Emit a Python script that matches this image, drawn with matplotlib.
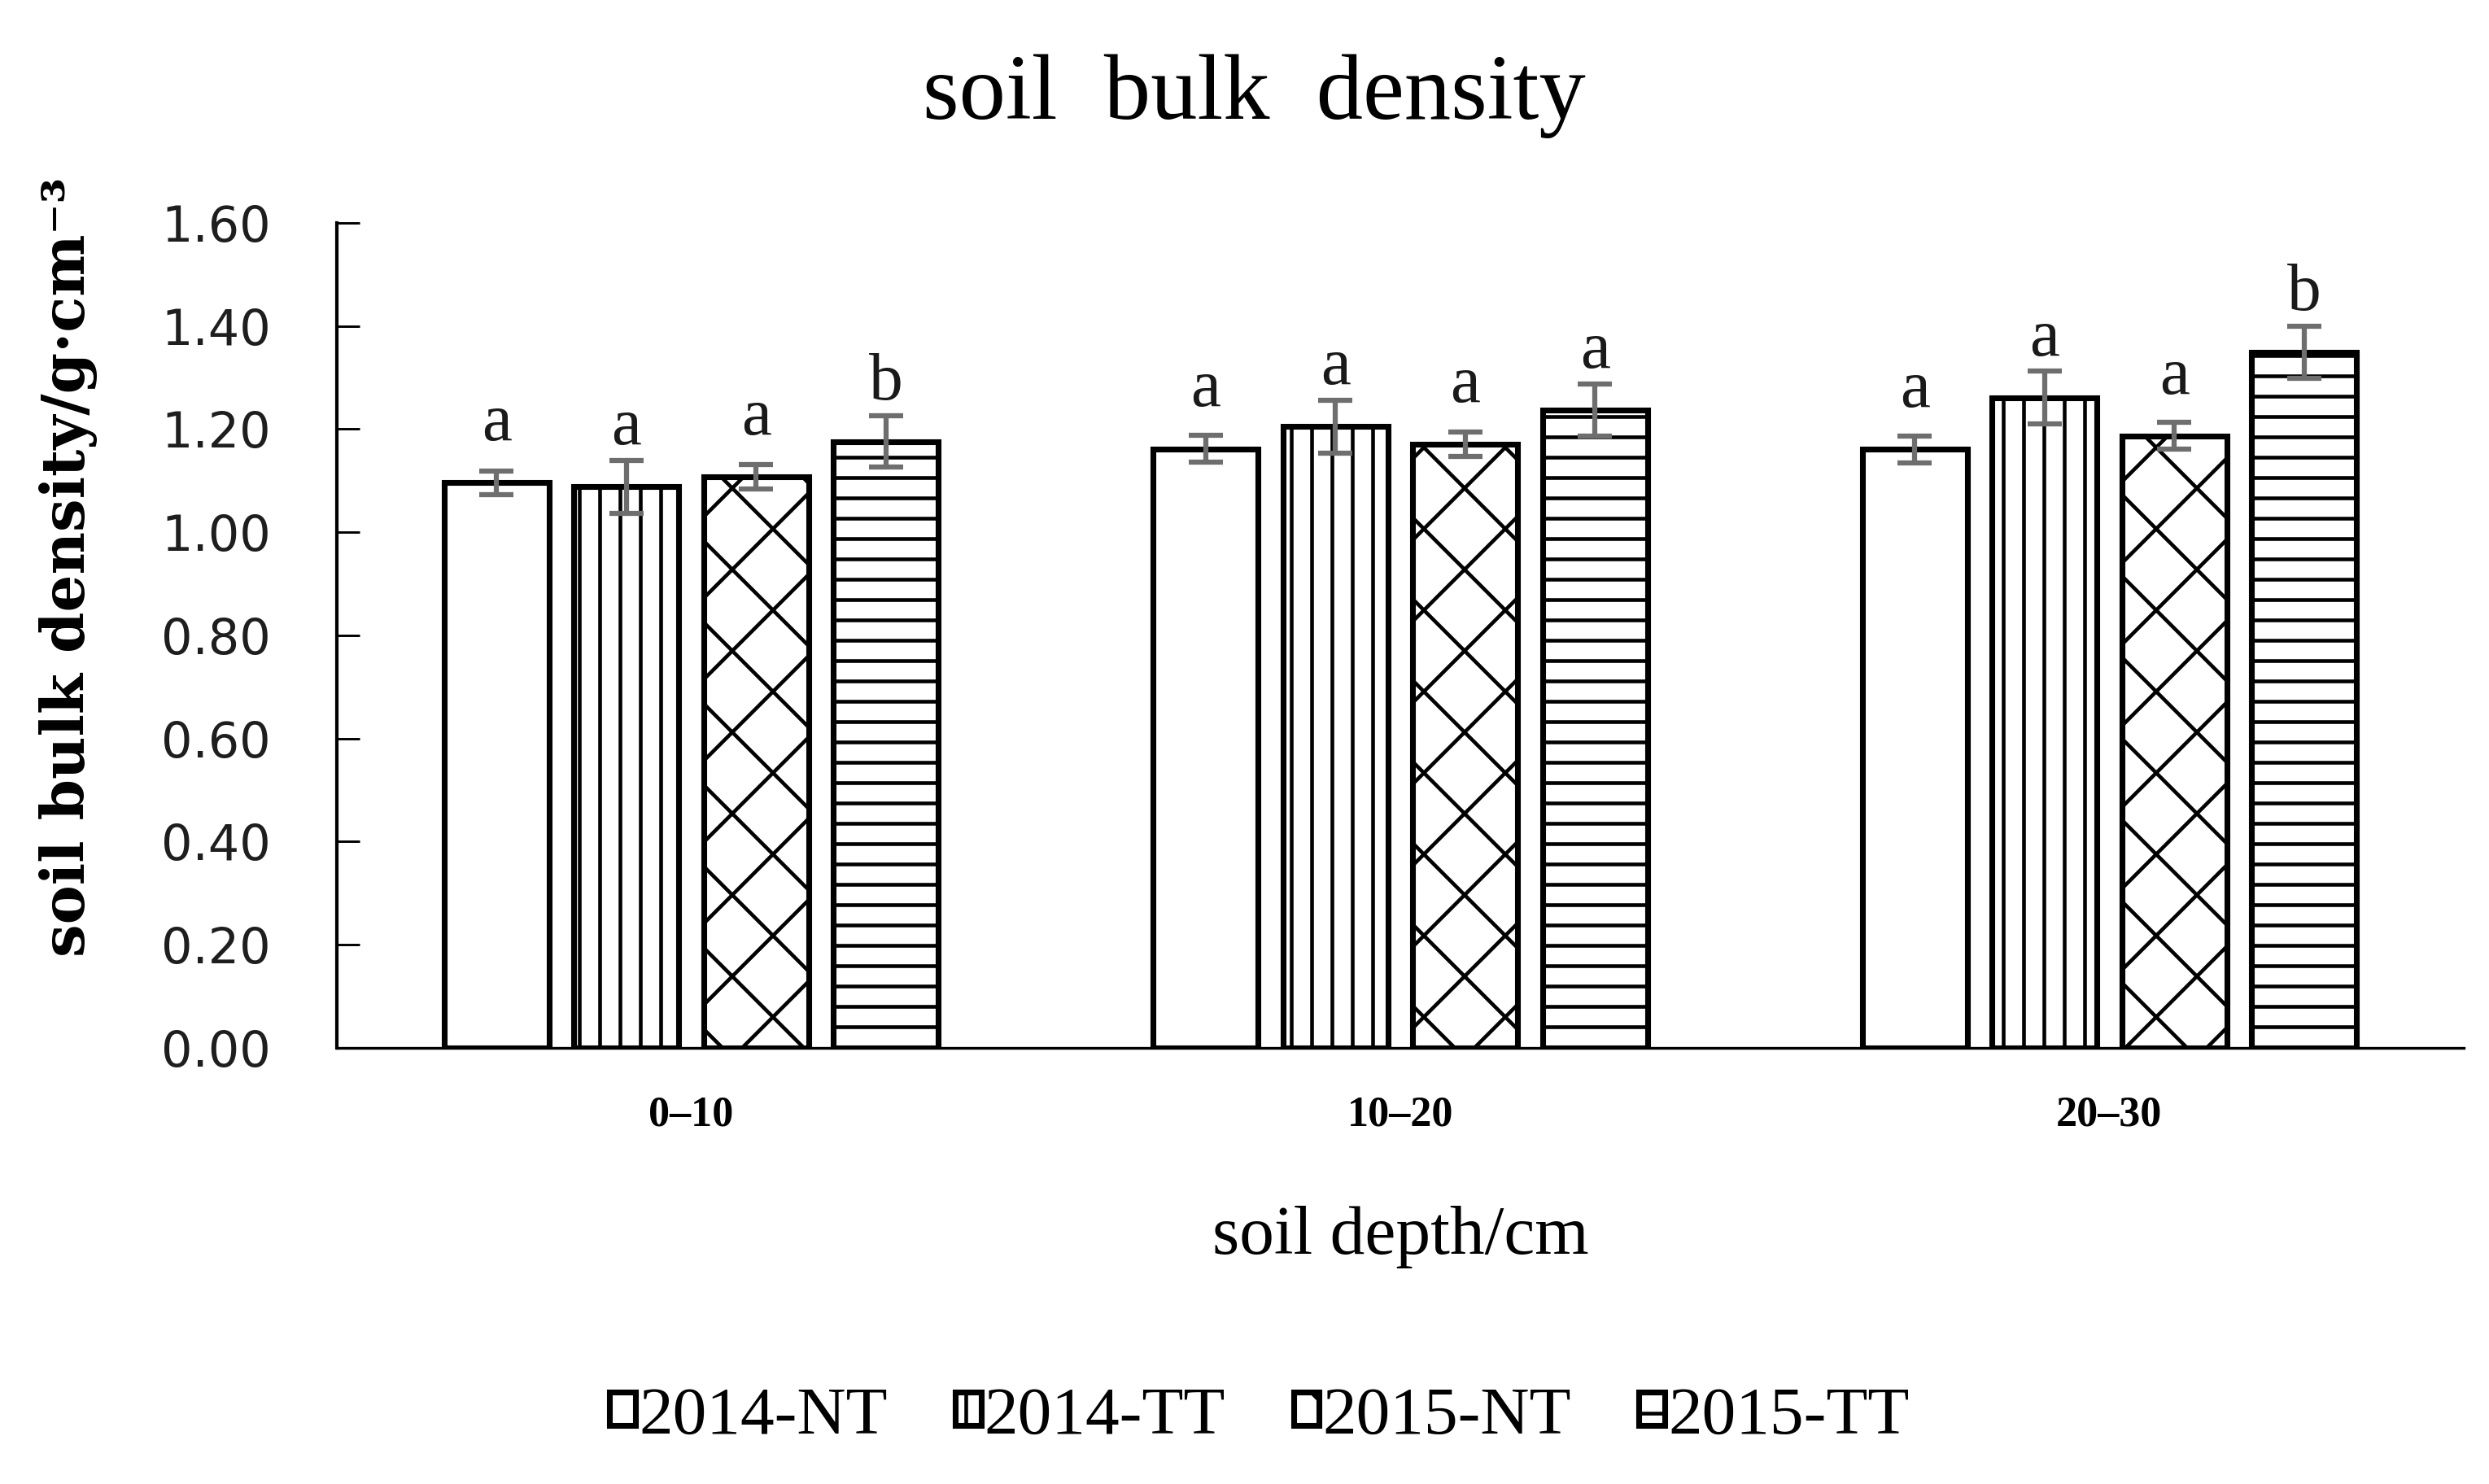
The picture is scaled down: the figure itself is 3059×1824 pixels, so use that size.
import matplotlib
matplotlib.use("Agg")
import matplotlib.pyplot as plt
import numpy as np

# ---- data ----
depths = ["0–10", "10–20", "20–30"]
series_names = ["2014-NT", "2014-TT", "2015-NT", "2015-TT"]
nt_2014 = [1.096, 1.162, 1.161]
tt_2014 = [1.088, 1.205, 1.261]
nt_2015 = [1.108, 1.171, 1.187]
tt_2015 = [1.176, 1.237, 1.349]
err_nt_2014 = [0.023, 0.026, 0.026]
err_tt_2014 = [0.051, 0.051, 0.051]
err_nt_2015 = [0.024, 0.024, 0.026]
err_tt_2015 = [0.050, 0.051, 0.051]
sig_nt_2014 = ["a", "a", "a"]
sig_tt_2014 = ["a", "a", "a"]
sig_nt_2015 = ["a", "a", "a"]
sig_tt_2015 = ["b", "a", "b"]
y_ticks = [0.0, 0.2, 0.4, 0.6, 0.8, 1.0, 1.2, 1.4, 1.6]

values = [nt_2014, tt_2014, nt_2015, tt_2015]
errors = [err_nt_2014, err_tt_2014, err_nt_2015, err_tt_2015]
letters = [sig_nt_2014, sig_tt_2014, sig_nt_2015, sig_tt_2015]
hatches = ["", "||", "x", "--"]

plt.rcParams["hatch.linewidth"] = 1.1
plt.rcParams["hatch.color"] = "black"

DPI = 300
fig = plt.figure(figsize=(3059 / DPI, 1824 / DPI), dpi=DPI)
ax = fig.add_axes([0.1353, 0.2939, 0.9899 - 0.1353, 0.5559])

x = np.arange(len(depths))
step = 0.183
width = 0.148
offsets = (np.arange(4) - 1.5) * step

for i in range(4):
    pos = x + offsets[i]
    ax.bar(pos, values[i], width=width, facecolor="white", edgecolor="black",
           linewidth=1.7, hatch=hatches[i], label=series_names[i], zorder=2)
    ax.errorbar(pos, values[i], yerr=errors[i], fmt="none", ecolor="#6e6e6e",
                elinewidth=1.5, capsize=5.0, capthick=1.5, zorder=3)
    for xp, v, lt in zip(pos, values[i], letters[i]):
        ax.annotate(lt, (xp, v), xytext=(0, 12.5), textcoords="offset points",
                    ha="center", va="baseline", fontsize=20,
                    family="Liberation Serif", color="#1a1a1a")

ax.set_xlim(-0.5, 2.5)
ax.set_ylim(0, 1.6)
ax.set_yticks(y_ticks)
ax.set_yticklabels([f"{t:.2f}" for t in y_ticks], family="DejaVu Sans",
                   fontsize=14.5, color="#1e1e1e")
ax.set_xticks(x)
ax.set_xticklabels(depths, family="Liberation Serif", fontweight="bold",
                   fontsize=12.5)
ax.tick_params(axis="y", direction="in", length=6.8, width=0.7, pad=19.5)
ax.tick_params(axis="x", length=0, pad=14)
for s in ["top", "right"]:
    ax.spines[s].set_visible(False)
ax.spines["left"].set_linewidth(1.0)
ax.spines["bottom"].set_linewidth(0.8)

fig.text(0.504, 1 - 146 / 1824, "soil  bulk  density", ha="center",
         va="baseline", fontsize=27.5, family="Liberation Serif")
fig.text((0.1353 + 0.9899) / 2, 1 - 1541 / 1824, "soil depth/cm",
         ha="center", va="baseline", fontsize=20.5, family="Liberation Serif")
fig.text(0.0275, 0.618, "soil bulk density/g·cm⁻³", rotation=90,
         ha="center", va="center", fontsize=17.3, fontweight="bold",
         family="DejaVu Serif")

leg = fig.legend(loc="center", bbox_to_anchor=(0.506, 0.045), ncol=4,
                 frameon=False, prop={"family": "Liberation Serif", "size": 20},
                 handlelength=0.38, handleheight=0.38, handletextpad=0.05,
                 columnspacing=1.0)

fig.savefig("out.png", dpi=DPI, facecolor="white")
